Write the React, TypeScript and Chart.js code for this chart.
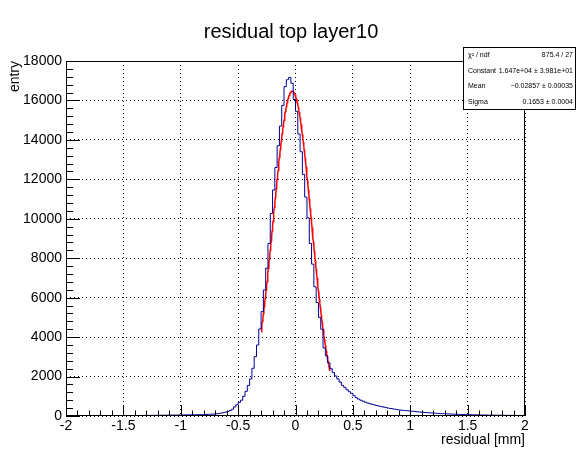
import React, { useEffect, useRef } from "react";
import { Chart, registerables } from "chart.js";

Chart.register(...registerables);

// ---- data ----
const binLow = -2;
const binHigh = 2;
// 200 bins of width 0.02 between -2 and 2
const binCounts: number[] = [
  10, 11, 9, 12, 10, 13, 11, 12, 14, 12, 13, 15, 14, 13, 16, 15, 17, 16, 18, 17, 19, 18, 20, 21, 20,
  22, 23, 22, 24, 25, 26, 25, 27, 28, 30, 29, 31, 32, 34, 33, 35, 36, 38, 39, 41, 42, 44, 45, 47, 49,
  51, 53, 55, 56, 58, 60, 62, 64, 66, 68,
  70, 75, 80, 85, 92, 100, 110, 125, 145, 165,
  190, 225, 270, 340, 460, 570, 680, 800, 1000, 1250,
  1550, 1880, 2420, 3010, 3600, 4410, 5290, 6390, 7490, 8750,
  10270, 11460, 12600, 13700, 14700, 15750, 16700, 17050, 17170, 16870,
  16050, 15450, 14300, 13400, 12250, 11100, 10050, 8750, 7700, 6550,
  5750, 5000, 4400, 3450, 3050, 2700, 2400, 2200, 2030, 1880,
  1720, 1550, 1450, 1330, 1230, 1150, 1030, 930, 860, 800,
  750, 700, 660, 620, 590, 560, 530, 500, 475, 450,
  425, 400, 380, 360, 340, 320, 305, 290, 280, 270,
  260, 245, 235, 222, 210, 198, 188, 178, 170, 160,
  152, 145, 138, 130, 124, 118, 112, 106, 100, 95,
  90, 86, 82, 78, 74, 70, 67, 64, 61, 58,
  55, 53, 51, 49, 47, 45, 44, 42, 41, 39,
  38, 37, 35, 34, 33, 32, 31, 30, 29, 28,
];
const xTickMin = -2;
const xTickMax = 2;
const xTickStep = 0.5;
const xMinorStep = 0.1;
const yTickMin = 0;
const yTickMax = 18000;
const yTickStep = 2000;
const yMinorStep = 400;

// gaus fit parameters (from the stats box)
const fitConstant = 16470;
const fitMean = -0.02857;
const fitSigma = 0.1653;
const fitLow = -0.3;
const fitHigh = 0.3;

const titleText = "residual top layer10";
const xTitle = "residual [mm]";
const yTitle = "entry";
const statsNames = ["χ² / ndf", "Constant", "Mean", "Sigma"];
const statsValues = ["875.4 / 27", "1.647e+04 ± 3.981e+01", "−0.02857 ± 0.00035", "0.1653 ± 0.0004"];

const FONT = '"Liberation Sans", Arial, Helvetica, sans-serif';

const rootDecor = {
  id: "rootDecor",
  afterDraw(chart: any) {
    const ctx = chart.ctx as CanvasRenderingContext2D;
    const { left, right, top, bottom } = chart.chartArea;
    const xs = chart.scales.x;
    const ys = chart.scales.y;
    ctx.save();
    ctx.strokeStyle = "#000";
    ctx.lineWidth = 1;
    // frame
    ctx.strokeRect(Math.round(left) + 0.5, Math.round(top) + 0.5, Math.round(right - left) - 1, Math.round(bottom - top) - 1);
    ctx.beginPath();
    // x ticks (inside, from bottom)
    const nx = Math.round((xTickMax - xTickMin) / xMinorStep);
    const xRatio = Math.round(xTickStep / xMinorStep);
    for (let k = 0; k <= nx; k++) {
      const v = xTickMin + k * xMinorStep;
      const major = k % xRatio === 0;
      const px = Math.round(xs.getPixelForValue(v)) + 0.5;
      const len = major ? 11 : 5.5;
      ctx.moveTo(px, bottom);
      ctx.lineTo(px, bottom - len);
    }
    // y ticks (inside, from left)
    const ny = Math.round((yTickMax - yTickMin) / yMinorStep);
    const yRatio = Math.round(yTickStep / yMinorStep);
    for (let k = 0; k <= ny; k++) {
      const v = yTickMin + k * yMinorStep;
      const major = k % yRatio === 0;
      const py = Math.round(ys.getPixelForValue(v)) + 0.5;
      const len = major ? 14 : 7;
      ctx.moveTo(left, py);
      ctx.lineTo(left + len, py);
    }
    ctx.stroke();

    // title
    ctx.fillStyle = "#000";
    ctx.font = `20px ${FONT}`;
    ctx.textAlign = "center";
    ctx.textBaseline = "middle";
    ctx.fillText(titleText, 291, 32);

    // axis titles
    ctx.font = `14px ${FONT}`;
    ctx.textAlign = "right";
    ctx.textBaseline = "middle";
    ctx.fillText(xTitle, right, 440);
    ctx.save();
    ctx.translate(15, top);
    ctx.rotate(-Math.PI / 2);
    ctx.textAlign = "right";
    ctx.textBaseline = "middle";
    ctx.fillText(yTitle, 0, 0);
    ctx.restore();

    // stats box
    const bx = 463, by = 47, bw = 113, bh = 63;
    ctx.fillStyle = "#fff";
    ctx.fillRect(bx, by, bw, bh);
    ctx.strokeStyle = "#000";
    ctx.strokeRect(bx + 0.5, by + 0.5, bw - 1, bh - 1);
    ctx.fillStyle = "#000";
    ctx.font = `7px ${FONT}`;
    ctx.textBaseline = "middle";
    const rowH = bh / statsNames.length;
    for (let i = 0; i < statsNames.length; i++) {
      const y = by + rowH * (i + 0.5);
      ctx.textAlign = "left";
      ctx.fillText(statsNames[i], bx + 5, y);
      ctx.textAlign = "right";
      ctx.fillText(statsValues[i], bx + bw - 3, y);
    }
    ctx.restore();
  },
};

export default function App() {
  const canvasRef = useRef<HTMLCanvasElement | null>(null);

  useEffect(() => {
    const canvas = canvasRef.current;
    if (!canvas) return;
    const width = (binHigh - binLow) / binCounts.length;
    const histPoints = binCounts.map((c, i) => ({ x: binLow + i * width, y: c }));
    histPoints.push({ x: binHigh, y: binCounts[binCounts.length - 1] });

    const fitPoints: { x: number; y: number }[] = [];
    const nFit = 150;
    for (let k = 0; k <= nFit; k++) {
      const x = fitLow + ((fitHigh - fitLow) * k) / nFit;
      const z = (x - fitMean) / fitSigma;
      fitPoints.push({ x, y: fitConstant * Math.exp(-0.5 * z * z) });
    }

    const chart = new Chart(canvas, {
      type: "line",
      data: {
        datasets: [
          {
            data: histPoints,
            stepped: "after",
            borderColor: "#000099",
            borderWidth: 1,
            pointRadius: 0,
            fill: false,
          },
          {
            data: fitPoints,
            borderColor: "#ff0000",
            borderWidth: 1.5,
            pointRadius: 0,
            tension: 0,
            fill: false,
          },
        ],
      },
      options: {
        responsive: false,
        animation: false,
        layout: { padding: { top: 61, right: 52, left: 0, bottom: 0 } },
        plugins: { legend: { display: false }, tooltip: { enabled: false }, title: { display: false } },
        scales: {
          x: {
            type: "linear",
            min: xTickMin,
            max: xTickMax,
            afterFit: (s: any) => {
              s.height = 34;
            },
            border: { display: false, dash: [1, 3] },
            grid: { color: "#000", drawTicks: false, lineWidth: 1 },
            ticks: {
              stepSize: xTickStep,
              autoSkip: false,
              padding: 2,
              color: "#000",
              font: { family: FONT, size: 14 },
              callback: (v: any) => String(Math.round(Number(v) * 10) / 10),
            },
          },
          y: {
            type: "linear",
            min: yTickMin,
            max: yTickMax,
            afterFit: (s: any) => {
              s.width = 66;
            },
            border: { display: false, dash: [1, 3] },
            grid: { color: "#000", drawTicks: false, lineWidth: 1 },
            ticks: {
              stepSize: yTickStep,
              autoSkip: false,
              padding: 4,
              color: "#000",
              font: { family: FONT, size: 14 },
              callback: (v: any) => String(v),
            },
          },
        },
      },
      plugins: [rootDecor],
    });
    return () => chart.destroy();
  }, []);

  return (
    <div style={{ position: "fixed", left: 0, top: 0, width: 577, height: 450, background: "#fff" }}>
      <canvas ref={canvasRef} width={577} height={450} style={{ display: "block" }} />
    </div>
  );
}
